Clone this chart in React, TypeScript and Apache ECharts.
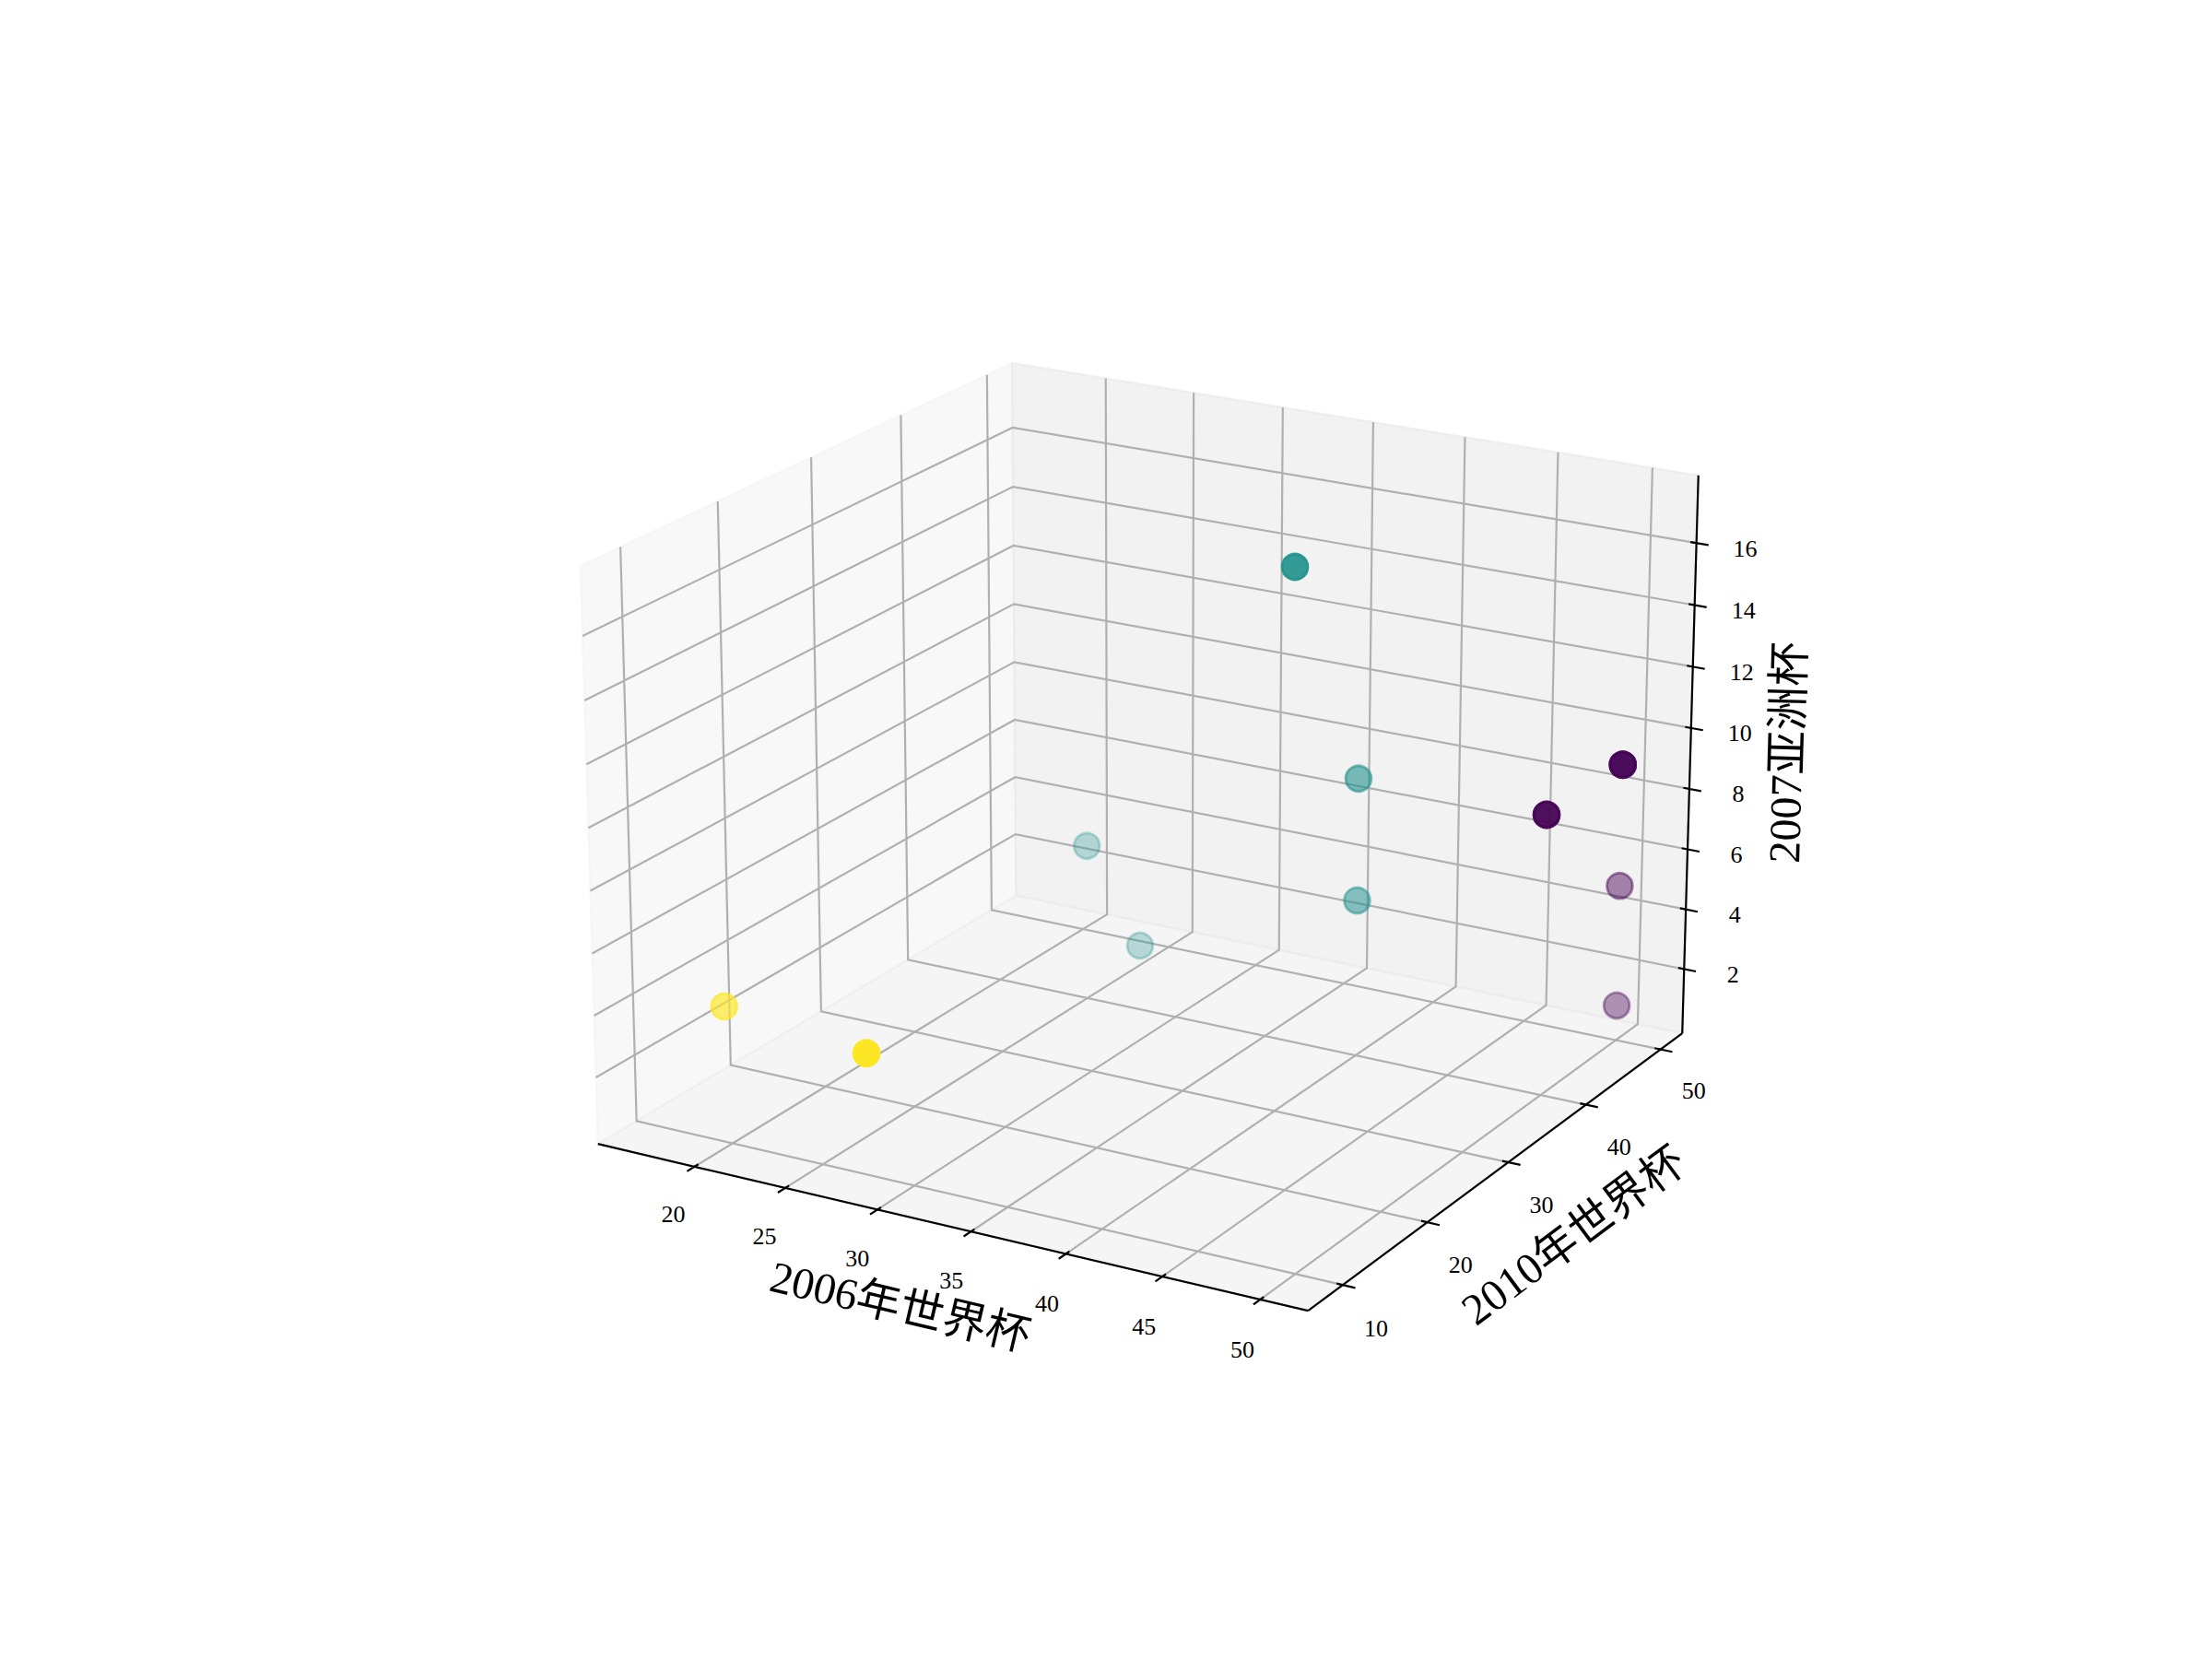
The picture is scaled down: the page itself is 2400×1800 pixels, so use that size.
import React, { useEffect, useRef } from "react";
import * as echarts from "echarts";

// Data: 2006 World Cup rank, 2010 World Cup rank, 2007 Asian Cup rank, and cluster
const wc2006 = [50, 28, 17, 25, 28, 50, 50, 50, 40, 50, 50, 50, 40, 40, 50];
const wc2010 = [50, 9, 15, 40, 40, 50, 40, 40, 40, 50, 50, 50, 40, 32, 50];
const ac2007 = [9, 4, 3, 5, 2, 1, 9, 9, 5, 9, 5, 9, 9, 17, 9];
const cluster = [0, 2, 2, 1, 1, 0, 0, 0, 1, 0, 0, 0, 1, 1, 0];
const clusterColors = ["68,1,84", "33,145,140", "253,231,37"];

const xTicks = [20, 25, 30, 35, 40, 45, 50];
const yTicks = [10, 20, 30, 40, 50];
const zTicks = [2, 4, 6, 8, 10, 12, 14, 16];

const xTitle = "2006年世界杯";
const yTitle = "2010年世界杯";
const zTitle = "2007亚洲杯";

const ELEV = (20 * Math.PI) / 180;
const AZIM = (-60 * Math.PI) / 180;
const DIST = 10;
const BOX_NORM = 1.8294640721620434 / Math.sqrt(41);
const BOX = [4 * BOX_NORM, 4 * BOX_NORM, 3 * BOX_NORM];

const SERIF = '"Liberation Serif","Noto Sans CJK SC",serif';
const GRID_COLOR = "#b0b0b0";
const LINE_W = 2.2;

function limits(vals: number[]) {
  const lo = Math.min(...vals);
  const hi = Math.max(...vals);
  const m = (hi - lo) * 0.05;
  return [lo - m, hi + m];
}
const lims = [limits(wc2006), limits(wc2010), limits(ac2007)];
const panes = lims.map(([lo, hi]) => {
  const d = (hi - lo) / 48;
  return [lo - d, hi + d];
});
const [xP, yP, zP] = panes;

const ps = [Math.cos(ELEV) * Math.cos(AZIM), Math.cos(ELEV) * Math.sin(AZIM), Math.sin(ELEV)];
const uN = Math.hypot(ps[0], ps[1]);
const u = [-ps[1] / uN, ps[0] / uN, 0];
const v = [
  ps[1] * u[2] - ps[2] * u[1],
  ps[2] * u[0] - ps[0] * u[2],
  ps[0] * u[1] - ps[1] * u[0],
];

// Data (x, y, z) -> view plane (X, Y) and depth, as mplot3d does it
function project(p: number[]) {
  const d = p.map((val, i) => ((val - lims[i][0]) / (lims[i][1] - lims[i][0]) - 0.5) * BOX[i]);
  const dot = (a: number[]) => a[0] * d[0] + a[1] * d[1] + a[2] * d[2];
  const den = DIST - dot(ps);
  return [dot(u) / den, dot(v) / den, -DIST / den];
}
const pr = (p: number[]) => project(p).slice(0, 2);

type Poly = { pts: number[][]; fill: string; stroke: string };
const panePolys: Poly[] = [
  {
    pts: [[xP[0], yP[0], zP[0]], [xP[0], yP[1], zP[0]], [xP[0], yP[1], zP[1]], [xP[0], yP[0], zP[1]]],
    fill: "rgba(242,242,242,0.5)",
    stroke: "rgba(242,242,242,0.5)",
  },
  {
    pts: [[xP[0], yP[1], zP[0]], [xP[1], yP[1], zP[0]], [xP[1], yP[1], zP[1]], [xP[0], yP[1], zP[1]]],
    fill: "rgba(230,230,230,0.5)",
    stroke: "rgba(230,230,230,0.5)",
  },
  {
    pts: [[xP[0], yP[0], zP[0]], [xP[1], yP[0], zP[0]], [xP[1], yP[1], zP[0]], [xP[0], yP[1], zP[0]]],
    fill: "rgba(236,236,236,0.5)",
    stroke: "rgba(236,236,236,0.5)",
  },
];

const gridLines: number[][][] = [
  ...xTicks.map((x) => [[x, yP[0], zP[0]], [x, yP[1], zP[0]], [x, yP[1], zP[1]]]),
  ...yTicks.map((y) => [[xP[1], y, zP[0]], [xP[0], y, zP[0]], [xP[0], y, zP[1]]]),
  ...zTicks.map((z) => [[xP[0], yP[0], z], [xP[0], yP[1], z], [xP[1], yP[1], z]]),
];

const xSpan = xP[1] - xP[0];
const ySpan = yP[1] - yP[0];
const OUT = 0.2 / 12;
const IN = 0.1 / 12;
const axisLines: number[][][] = [
  [[xP[0], yP[0], zP[0]], [xP[1], yP[0], zP[0]]],
  [[xP[1], yP[0], zP[0]], [xP[1], yP[1], zP[0]]],
  [[xP[1], yP[1], zP[0]], [xP[1], yP[1], zP[1]]],
  ...xTicks.map((x) => [[x, yP[0] - OUT * ySpan, zP[0]], [x, yP[0] + IN * ySpan, zP[0]]]),
  ...yTicks.map((y) => [[xP[1] + OUT * xSpan, y, zP[0]], [xP[1] - IN * xSpan, y, zP[0]]]),
  ...zTicks.map((z) => [[xP[1] + OUT * xSpan, yP[1], z], [xP[1] - IN * xSpan, yP[1], z]]),
];

type Label = { p: number[]; text: string; dx: number; dy: number };
const tickLabels: Label[] = [
  ...xTicks.map((x, i) => ({ p: [x, yP[0], zP[0]], text: String(x), dx: -23 + i * 0.6, dy: 52 + i * 0.5 })),
  ...yTicks.map((y, i) => ({ p: [xP[1], y, zP[0]], text: String(y), dx: 36, dy: 47 - i * 0.5 })),
  ...zTicks.map((z) => ({ p: [xP[1], yP[1], z], text: String(z), dx: 53, dy: 6 })),
];

type Title = { p: number[]; text: string; dx: number; dy: number; deg: number };
const titles: Title[] = [
  { p: [(xP[0] + xP[1]) / 2, yP[0], zP[0]], text: xTitle, dx: -46, dy: 88, deg: -13.3 },
  { p: [xP[1], (yP[0] + yP[1]) / 2, zP[0]], text: yTitle, dx: 75, dy: 76, deg: 36.7 },
  { p: [xP[1], yP[1], (zP[0] + zP[1]) / 2], text: zTitle, dx: 105, dy: -6.5, deg: 88.4 },
];

const points = wc2006
  .map((x, i) => {
    const [X, Y, depth] = project([x, wc2010[i], ac2007[i]]);
    return { X, Y, depth, c: cluster[i] };
  });
const dMin = Math.min(...points.map((p) => p.depth));
const dMax = Math.max(...points.map((p) => p.depth));
const sortedPoints = [...points].sort((a, b) => b.depth - a.depth);

const lineSeries = (lines: number[][][], stroke: string, z: number) => ({
  type: "custom",
  coordinateSystem: "cartesian2d",
  silent: true,
  z,
  clip: false,
  data: lines.map((l) => pr(l[0])),
  renderItem: (params: any, api: any) => ({
    type: "polyline",
    shape: { points: lines[params.dataIndex].map((p) => api.coord(pr(p))) },
    style: { stroke, lineWidth: LINE_W, fill: null },
  }),
});

const textElement = (x: number, y: number, text: string, size: number, deg: number) => ({
  type: "text",
  x,
  y,
  rotation: (deg * Math.PI) / 180,
  style: {
    text,
    fontSize: size,
    fontFamily: SERIF,
    fill: "#000",
    align: "center",
    verticalAlign: "middle",
    textAlign: "center",
    textVerticalAlign: "middle",
  },
});

function buildOption() {
  return {
    animation: false,
    backgroundColor: "#fff",
    grid: { left: 0, right: 0, top: 0, bottom: 0 },
    xAxis: { type: "value", min: -0.1701, max: 0.15679, show: false },
    yAxis: { type: "value", min: -0.12577, max: 0.11939, show: false },
    series: [
      {
        type: "custom",
        coordinateSystem: "cartesian2d",
        silent: true,
        z: 1,
        clip: false,
        data: panePolys.map((q) => pr(q.pts[0])),
        renderItem: (params: any, api: any) => {
          const q = panePolys[params.dataIndex];
          return {
            type: "polygon",
            shape: { points: q.pts.map((p) => api.coord(pr(p))) },
            style: { fill: q.fill, stroke: q.stroke, lineWidth: LINE_W },
          };
        },
      },
      lineSeries(gridLines, GRID_COLOR, 2),
      lineSeries(axisLines, "#000", 3),
      {
        type: "custom",
        coordinateSystem: "cartesian2d",
        silent: true,
        z: 4,
        clip: false,
        data: tickLabels.map((t) => pr(t.p)),
        renderItem: (params: any, api: any) => {
          const t = tickLabels[params.dataIndex];
          const c = api.coord(pr(t.p));
          return textElement(c[0] + t.dx, c[1] + t.dy, t.text, 26, 0);
        },
      },
      {
        type: "custom",
        coordinateSystem: "cartesian2d",
        silent: true,
        z: 4,
        clip: false,
        data: titles.map((t) => pr(t.p)),
        renderItem: (params: any, api: any) => {
          const t = titles[params.dataIndex];
          const c = api.coord(pr(t.p));
          return textElement(c[0] + t.dx, c[1] + t.dy, t.text, 48, t.deg);
        },
      },
      {
        type: "custom",
        coordinateSystem: "cartesian2d",
        silent: true,
        z: 5,
        clip: false,
        data: sortedPoints.map((p) => [p.X, p.Y]),
        renderItem: (params: any, api: any) => {
          const p = sortedPoints[params.dataIndex];
          const c = api.coord([p.X, p.Y]);
          const alpha = 1 - (0.7 * (p.depth - dMin)) / (dMax - dMin);
          const col = `rgba(${clusterColors[p.c]},${alpha.toFixed(3)})`;
          return {
            type: "circle",
            shape: { cx: c[0], cy: c[1], r: 13.9 },
            style: { fill: col, stroke: col, lineWidth: 2.8 },
          };
        },
      },
    ],
  };
}

export default function App() {
  const ref = useRef<HTMLDivElement>(null);
  useEffect(() => {
    const chart = echarts.init(ref.current!, undefined, { renderer: "svg" });
    chart.setOption(buildOption() as any);
    return () => chart.dispose();
  }, []);
  return <div ref={ref} style={{ position: "absolute", left: 0, top: 0, width: 2400, height: 1800 }} />;
}
